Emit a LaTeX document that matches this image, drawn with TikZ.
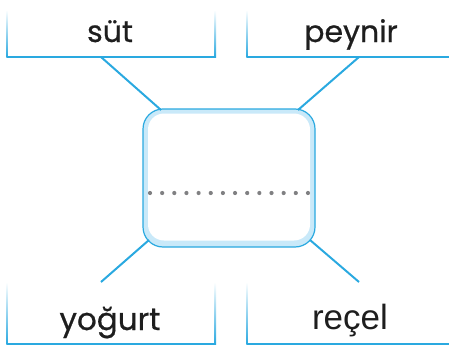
\documentclass[tikz,border=0pt]{standalone}
\usepackage{fontspec}
\setmainfont{Poppins}[FakeBold=0.7]
\newfontfamily\narrowfont{Liberation Sans}
\definecolor{cblue}{HTML}{2AA9E0}
\definecolor{cband}{HTML}{C9E9F9}
\definecolor{cdot}{HTML}{808082}
\definecolor{ctext}{HTML}{1E1E1E}
\begin{document}
\begin{tikzpicture}[x=1pt,y=-1pt,
  lbl/.style={anchor=base,text=ctext,font=\fontsize{30}{30}\selectfont,inner sep=0pt},
  side/.style={top color=white,bottom color=cblue,draw=none},
  baseline/.style={draw=cblue,line width=1.3pt},
  conn/.style={draw=cblue,line width=2pt}]
\useasboundingbox (0,0) rectangle (449,345);
% top boxes
\shade[side] (6.4,10) rectangle (7.8,57);
\shade[side] (214.6,10) rectangle (216,57);
\draw[baseline] (7,57) -- (216,57);
\shade[side] (246.4,10) rectangle (247.8,57);
\draw[baseline] (247,57) -- (452,57);
% bottom boxes
\shade[side] (6.4,282) rectangle (7.8,344);
\shade[side] (214.6,282) rectangle (216,344);
\draw[baseline] (7,344) -- (216,344);
\shade[side] (246.4,282) rectangle (247.8,344);
\draw[baseline] (247,344) -- (452,344);
% labels
\node[lbl] (sut) at (110,42) {süt};
\node[lbl] (peynir) at (351,42) {peynir};
\node[lbl,font=\fontsize{31}{31}\selectfont] (yogurt) at (110,330) {yoğurt};
\node[lbl,font=\narrowfont\fontsize{35}{35}\selectfont] (recel) at (350,329) {reçel};
% centre box
\node[draw=cblue,line width=1.2pt,fill=cband,rounded corners=20pt,minimum width=172pt,minimum height=138pt,inner sep=0pt] (c) at (229,178) {};
\node[fill=white,rounded corners=16pt,minimum width=162pt,minimum height=127pt,inner sep=0pt] (ci) at (229,177) {};
\draw[cdot,line width=4.2pt,line cap=round,dash pattern=on 0pt off 12.15pt] (150,193) -- (308,193);
% connectors
\coordinate (a1) at (101,57);
\coordinate (a2) at (161,110);
\coordinate (b1) at (359,57);
\coordinate (b2) at (298,110);
\coordinate (c1) at (101,282);
\coordinate (c2) at (149,240);
\coordinate (d1) at (359,282);
\coordinate (d2) at (310,240);
\draw[conn] (a1) -- (a2);
\draw[conn] (b1) -- (b2);
\draw[conn] (c1) -- (c2);
\draw[conn] (d1) -- (d2);
\end{tikzpicture}
\end{document}
